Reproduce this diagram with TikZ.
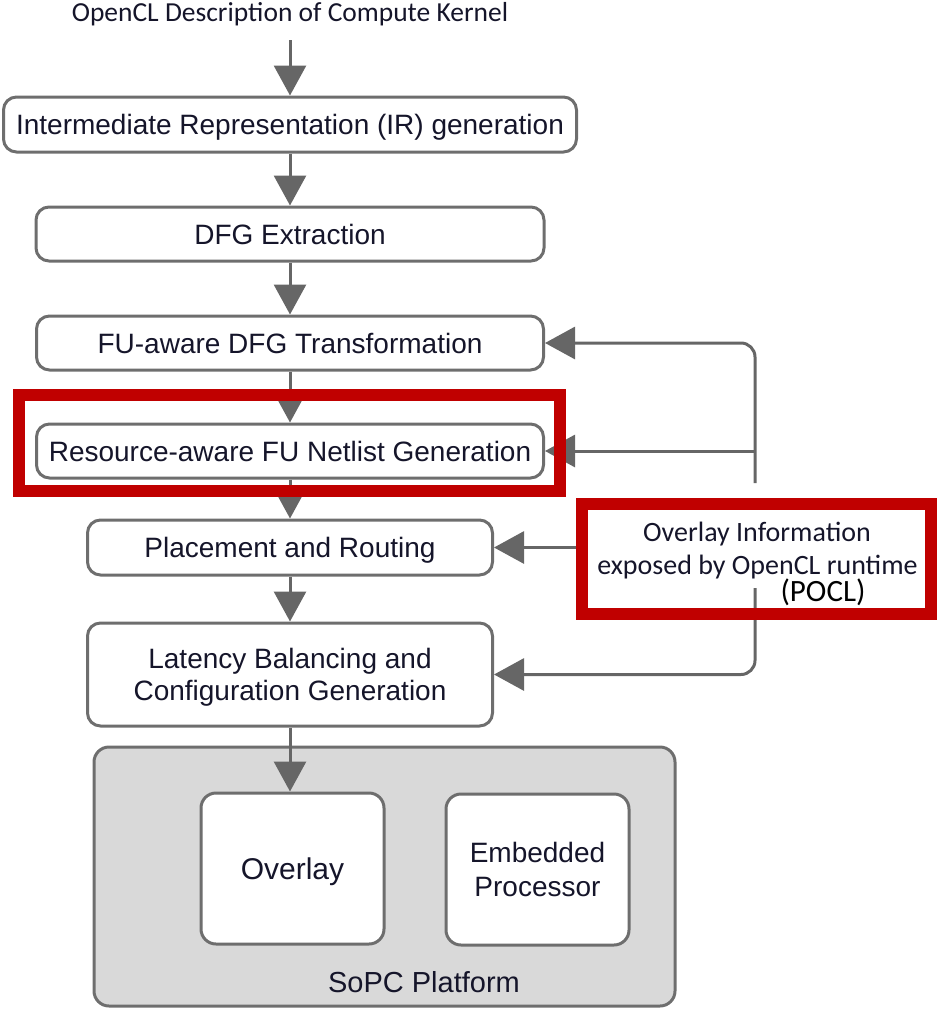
\documentclass[tikz,border=0pt]{standalone}
\usepackage{fontspec}
\setmainfont{Liberation Sans}
\newfontfamily\calfont{Carlito}
\usetikzlibrary{arrows.meta,calc}

\definecolor{edge}{HTML}{6E6E6E}
\definecolor{wire}{HTML}{666666}
\definecolor{hilite}{HTML}{C00000}
\definecolor{platform}{HTML}{D9D9D9}
\definecolor{ink}{HTML}{15152A}

\pgfdeclarelayer{front}
\pgfsetlayers{main,front}

\tikzset{
  stage/.style={draw=edge, line width=3pt, rounded corners=13pt, fill=white,
    text=ink, font=\fontsize{28}{32}\selectfont, inner sep=0pt, align=center,
    text height=20pt, text depth=0pt},
  flow/.style={draw=wire, line width=3pt, -{Triangle[length=30pt,width=32pt]}},
  frame/.style={draw=hilite, line width=12pt, inner sep=0pt},
  note/.style={text=ink, font=\calfont\fontsize{28}{32}\selectfont, inner sep=0pt, anchor=base},
}

\begin{document}
\begin{tikzpicture}[x=1pt,y=-1pt]
\useasboundingbox (0,0) rectangle (938,1009);

% input description
\node[note, font=\calfont\fontsize{27.5}{32}\selectfont, text depth=19pt] (title) at (290,21)
  {OpenCL Description of Compute Kernel};

% compilation stages
\node[stage, minimum width=573pt, minimum height=55pt] (ir) at (290,124.5)
  {Intermediate Representation (IR) generation};
\node[stage, minimum width=508pt, minimum height=54pt] (dfg) at (290,234)
  {DFG Extraction};
\node[stage, minimum width=507pt, minimum height=54pt] (fu) at (290,343)
  {FU-aware DFG Transformation};
\node[stage, minimum width=507pt, minimum height=54pt] (res) at (290,451)
  {Resource-aware FU Netlist Generation};
\node[stage, minimum width=405pt, minimum height=55pt] (place) at (290,547.5)
  {Placement and Routing};
\node[stage, text height=52pt, minimum width=405pt, minimum height=103pt] (lat) at (290,674.5)
  {Latency Balancing and\\Configuration Generation};

% target platform
\node[stage, fill=platform, rounded corners=15pt, minimum width=581pt, minimum height=259pt] (sopc) at (384.5,876.5) {};
\node[text=ink, font=\fontsize{29}{32}\selectfont, inner sep=0pt, anchor=base] (sopclabel) at (424,992) {SoPC Platform};
\node[stage, rounded corners=15pt, font=\fontsize{30}{34}\selectfont, text height=21.5pt,
  minimum width=183pt, minimum height=151pt] (overlay) at (292.5,868.5) {Overlay};
\node[stage, rounded corners=15pt, font=\fontsize{28}{34}\selectfont, text height=54pt,
  minimum width=183pt, minimum height=151pt] (emb) at (537.5,869.5) {Embedded\\Processor};

% highlight frames and runtime information
\begin{pgfonlayer}{front}
  \node[frame, minimum width=541pt, minimum height=96pt] (resframe) at (289.5,443) {};
  \node[frame, minimum width=349pt, minimum height=110pt] (info) at (756.5,559) {};
  \node[note] (infoA) at (757,541) {Overlay Information};
  \node[note] (infoB) at (757.5,574) {exposed by OpenCL runtime};
  \node[note, text=black, font=\calfont\fontsize{31}{34}\selectfont] (infoC) at (823,601) {(POCL)};
\end{pgfonlayer}

% main flow
\draw[flow] (title.south) -- (ir.north);
\draw[flow] (ir.south) -- (dfg.north);
\draw[flow] (dfg.south) -- (fu.north);
\draw[flow] (fu.south) -- (res.north);
\draw[flow] (res.south) -- (place.north);
\draw[flow] (place.south) -- (lat.north);
\draw[flow] (lat.south) -- (lat.south |- overlay.north);

% feedback from runtime information
\coordinate (tapN) at (755,483);
\coordinate (tapS) at (755,588);
\draw[flow, rounded corners=14pt] (tapN) |- (fu.east);
\draw[flow] (tapN |- res.east) -- (res.east);
\draw[flow] (info.west |- place.east) -- (place.east);
\draw[flow, rounded corners=14pt] (tapS) |- (lat.east);
\end{tikzpicture}
\end{document}
